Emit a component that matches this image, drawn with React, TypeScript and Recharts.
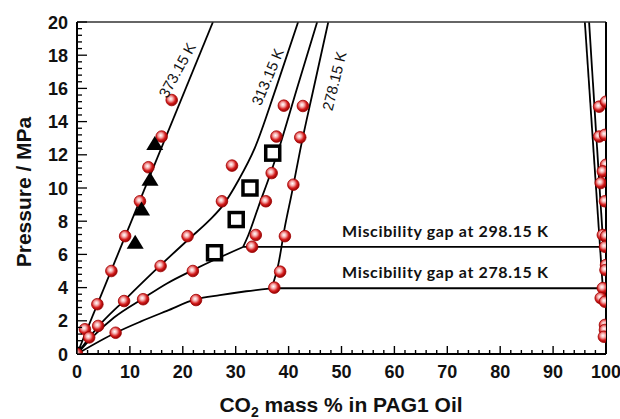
import { ComposedChart, Line, Scatter, XAxis, YAxis, ReferenceDot } from 'recharts';

const FONT = '"Liberation Sans", Arial, Helvetica, sans-serif';

// isotherms: [CO2 mass %, pressure MPa]
const iso373: [number, number][] = [[0, 0], [25.7, 20]];
const iso313: [number, number][] = [
  [0, 0], [4, 1.65], [9, 3.25], [15.8, 5.35], [21.4, 7.0], [25, 8.05], [27.7, 9.0],
  [30.5, 10.45], [33.6, 12.4], [37.6, 16.0], [41.8, 20],
];
const iso298Low: [number, number][] = [
  [0, 0], [3, 1.05], [7, 2.2], [12.5, 3.35], [17, 4.25], [21.9, 5.05], [26.5, 5.75], [31.4, 6.45],
];
const iso298High: [number, number][] = [
  [31.4, 6.45], [32.4, 7.17], [34.3, 8.87], [36.5, 10.8], [38.1, 12.3], [41.5, 15.9], [45.4, 20],
];
const iso278Low: [number, number][] = [
  [0, 0], [7.3, 1.28], [12, 1.95], [17, 2.6], [22.5, 3.3], [27, 3.55], [32, 3.78], [36.8, 3.96],
];
const iso278High: [number, number][] = [
  [36.8, 3.96], [38.1, 5.46], [39.3, 7.67], [40.6, 9.68], [42.2, 12.3], [44.8, 16.1], [47.5, 20],
];
const gap298: [number, number][] = [[31.4, 6.45], [99.5, 6.45]];
const gap278: [number, number][] = [[36.8, 3.96], [99.4, 3.96]];
const dew298: [number, number][] = [[96.8, 20], [99.5, 6.45]];
const dew278: [number, number][] = [[96.0, 20], [99.4, 3.96]];

// measured points
const expCircles: [number, number][] = [
  [0, 0], [1.5, 1.49], [2.3, 1.0], [4.0, 1.69], [3.85, 3.0], [6.5, 5.0], [7.3, 1.28],
  [8.9, 3.19], [9.1, 7.1], [12.5, 3.3], [11.9, 9.2], [13.5, 11.25], [16.0, 13.1],
  [17.9, 15.3], [15.8, 5.3], [20.9, 7.1], [21.9, 5.0], [22.5, 3.25], [27.4, 9.2],
  [29.3, 11.35], [33.1, 6.46], [33.8, 7.17], [35.7, 9.2], [36.8, 10.9], [37.7, 13.1],
  [39.1, 14.96], [42.7, 14.94], [42.2, 13.05], [40.9, 10.2], [39.3, 7.1], [38.4, 4.96],
  [37.3, 4.0],
  [98.7, 14.9], [100, 15.2], [98.7, 13.1], [99.8, 13.2], [100, 11.4], [99.4, 11.0],
  [99.0, 10.3], [99.8, 9.2], [99.4, 7.17], [100, 7.1], [99.8, 6.46], [100, 5.36],
  [99.9, 5.06], [99.4, 3.97], [99.0, 3.37], [99.8, 3.15], [99.8, 1.75], [99.8, 1.45],
  [99.6, 1.04],
];
const expTriangles: [number, number][] = [[11.0, 6.7], [12.2, 8.7], [13.8, 10.5], [14.7, 12.65]];
const expSquares: [number, number][] = [[26.0, 6.1], [30.1, 8.1], [32.7, 10.0], [37.0, 12.1]];

const xLabels = [0, 10, 20, 30, 40, 50, 60, 70, 80, 90, 100];
const yLabels = [0, 2, 4, 6, 8, 10, 12, 14, 16, 18, 20];
const xTicks = Array.from({ length: 51 }, (_, i) => i * 2);
const yTicks = Array.from({ length: 51 }, (_, i) => Math.round(i * 4) / 10);

const pts = (a: [number, number][]) => a.map(([x, y]) => ({ x, y }));

const BottomTick = (p: any) => {
  const v = p.payload.value;
  const major = xLabels.includes(v);
  return (
    <g>
      <line x1={p.x} x2={p.x} y1={p.y} y2={p.y - (major ? 8 : 4)} stroke="#000" strokeWidth={1.4} />
      {major && (
        <text x={p.x} y={p.y + 24} textAnchor="middle" fontFamily={FONT} fontWeight="bold" fontSize={18} fill="#111">
          {v}
        </text>
      )}
    </g>
  );
};

const LeftTick = (p: any) => {
  const v = p.payload.value;
  const major = yLabels.some((l) => Math.abs(l - v) < 1e-6);
  return (
    <g>
      <line x1={p.x} x2={p.x + (major ? 10 : 5)} y1={p.y} y2={p.y} stroke="#000" strokeWidth={1.3} />
      {major && (
        <text x={p.x - 9} y={p.y + 6.5} textAnchor="end" fontFamily={FONT} fontWeight="bold" fontSize={18} fill="#111">
          {Math.round(v)}
        </text>
      )}
    </g>
  );
};

const RightTick = (p: any) => {
  const v = p.payload.value;
  const major = yLabels.some((l) => Math.abs(l - v) < 1e-6);
  return <line x1={p.x} x2={p.x - (major ? 7 : 3.5)} y1={p.y} y2={p.y} stroke="#000" strokeWidth={1.3} />;
};

const Ball = (p: any) => (
  <g>
    <defs>
      <radialGradient id="ball" cx="42%" cy="40%" r="62%">
        <stop offset="0%" stopColor="#ffffff" />
        <stop offset="30%" stopColor="#f6b0b0" />
        <stop offset="65%" stopColor="#d41c1c" />
        <stop offset="100%" stopColor="#8c0000" />
      </radialGradient>
    </defs>
    <circle cx={p.cx} cy={p.cy} r={5.8} fill="url(#ball)" stroke="#a00000" strokeWidth={0.8} />
  </g>
);

const Tri = (p: any) => (
  <polygon points={`${p.cx},${p.cy - 8} ${p.cx - 8.5},${p.cy + 6} ${p.cx + 8.5},${p.cy + 6}`} fill="#000" />
);

const Sq = (p: any) => (
  <rect x={p.cx - 7} y={p.cy - 7} width={14} height={14} fill="#fff" stroke="#000" strokeWidth={3.5} />
);

const curveLabel = (text: string, angle: number) => (p: any) => (
  <text
    x={p.cx}
    y={p.cy}
    transform={`rotate(${angle} ${p.cx} ${p.cy})`}
    textAnchor="middle"
    dominantBaseline="central"
    fontFamily={FONT}
    fontSize={15}
    fill="#111"
  >
    {text}
  </text>
);

const gapLabel = (text: string) => (p: any) => (
  <text x={p.cx} y={p.cy - 10} fontFamily="Lato, 'Open Sans', sans-serif" fontWeight="bold" fontSize={16} fill="#111" textLength={206}>
    {text}
  </text>
);

const lineProps = {
  dataKey: 'y',
  stroke: '#000',
  strokeWidth: 1.8,
  dot: false,
  activeDot: false,
  isAnimationActive: false,
  legendType: 'none' as const,
};

export default function App() {
  return (
    <div style={{ position: 'absolute', left: 0, top: 0, width: 620, height: 419, background: '#fff' }}>
      <ComposedChart width={620} height={419} margin={{ top: 21, right: 13, bottom: 64, left: 76 }}>
        <XAxis
          dataKey="x"
          type="number"
          domain={[0, 100]}
          ticks={xTicks}
          interval={0}
          height={1}
          tickSize={0}
          tickMargin={0}
          tickLine={false}
          tick={<BottomTick />}
          axisLine={{ stroke: '#000', strokeWidth: 2 }}
          allowDataOverflow
        />
        <XAxis
          xAxisId="top"
          orientation="top"
          type="number"
          domain={[0, 100]}
          height={1}
          tick={false}
          tickLine={false}
          axisLine={{ stroke: '#333', strokeWidth: 1.5 }}
        />
        <YAxis
          dataKey="y"
          type="number"
          domain={[0, 20]}
          ticks={yTicks}
          interval={0}
          width={1}
          tickSize={0}
          tickMargin={0}
          tickLine={false}
          tick={<LeftTick />}
          axisLine={{ stroke: '#000', strokeWidth: 2 }}
          allowDataOverflow
        />
        <YAxis
          yAxisId="right"
          orientation="right"
          type="number"
          domain={[0, 20]}
          ticks={yTicks}
          interval={0}
          width={1}
          tickSize={0}
          tickMargin={0}
          tickLine={false}
          tick={<RightTick />}
          axisLine={{ stroke: '#000', strokeWidth: 2 }}
        />

        <Line {...lineProps} data={pts(iso373)} type="linear" />
        <Line {...lineProps} data={pts(iso313)} type="monotone" />
        <Line {...lineProps} data={pts(iso298Low)} type="monotone" />
        <Line {...lineProps} data={pts(iso298High)} type="monotone" />
        <Line {...lineProps} data={pts(iso278Low)} type="monotone" />
        <Line {...lineProps} data={pts(iso278High)} type="monotone" />
        <Line {...lineProps} data={pts(gap298)} type="linear" />
        <Line {...lineProps} data={pts(gap278)} type="linear" />
        <Line {...lineProps} data={pts(dew298)} type="linear" />
        <Line {...lineProps} data={pts(dew278)} type="linear" />

        <Scatter data={pts(expCircles)} shape={<Ball />} isAnimationActive={false} legendType="none" />
        <Scatter data={pts(expTriangles)} shape={<Tri />} isAnimationActive={false} legendType="none" />
        <Scatter data={pts(expSquares)} shape={<Sq />} isAnimationActive={false} legendType="none" />

        <ReferenceDot x={18.9} y={17.1} r={0} shape={curveLabel('373.15 K', -61)} />
        <ReferenceDot x={36.0} y={16.7} r={0} shape={curveLabel('313.15 K', -67)} />
        <ReferenceDot x={48.6} y={16.45} r={0} shape={curveLabel('278.15 K', -76)} />
        <ReferenceDot x={50.1} y={6.45} r={0} shape={gapLabel('Miscibility gap at 298.15 K')} />
        <ReferenceDot x={50.1} y={3.96} r={0} shape={gapLabel('Miscibility gap at 278.15 K')} />
      </ComposedChart>

      <div
        style={{
          position: 'absolute',
          left: 24,
          top: 192,
          transform: 'translate(-50%, -50%) rotate(-90deg)',
          whiteSpace: 'nowrap',
          fontFamily: FONT,
          fontWeight: 'bold',
          fontSize: 21,
          color: '#111',
        }}
      >
        Pressure / MPa
      </div>
      <div
        style={{
          position: 'absolute',
          left: 341,
          top: 393,
          transform: 'translateX(-50%)',
          whiteSpace: 'nowrap',
          fontFamily: FONT,
          fontWeight: 'bold',
          fontSize: 21,
          lineHeight: '24px',
          color: '#111',
        }}
      >
        CO<span style={{ fontSize: 14, position: 'relative', top: 5 }}>2</span> mass % in PAG1 Oil
      </div>
    </div>
  );
}
